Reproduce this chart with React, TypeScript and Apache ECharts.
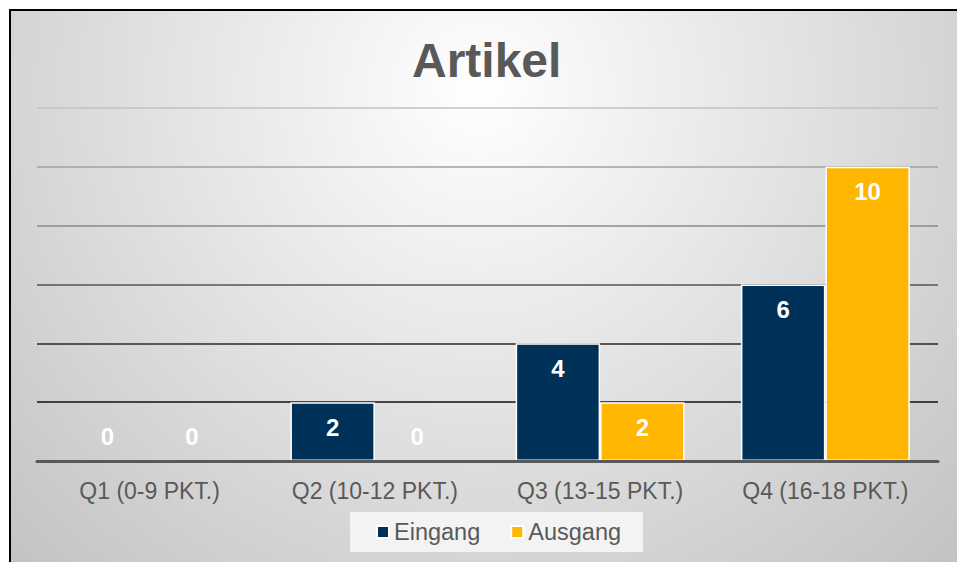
import React, { useEffect, useRef } from "react";
import * as echarts from "echarts";

const categories = ["Q1 (0-9 PKT.)", "Q2 (10-12 PKT.)", "Q3 (13-15 PKT.)", "Q4 (16-18 PKT.)"];
const eingang = [0, 2, 4, 6];
const ausgang = [0, 0, 2, 10];
const seriesNames = ["Eingang", "Ausgang"];
const yTicks = { min: 0, max: 12, interval: 2 };

const toData = (vals: number[]) =>
  vals.map((v) =>
    v === 0 ? { value: v, label: { position: "top", distance: 12 } } : { value: v }
  );

export default function App() {
  const ref = useRef<HTMLDivElement>(null);
  useEffect(() => {
    if (!ref.current) return;
    const chart = echarts.init(ref.current, undefined, { renderer: "svg" });
    const label = {
      show: true,
      position: "insideTop",
      distance: 13,
      color: "#ffffff",
      fontSize: 24,
      fontWeight: "bold",
      fontFamily: "Liberation Sans, Arial, sans-serif",
    };
    chart.setOption({
      animation: false,
      backgroundColor: "#ffffff",
      graphic: [
        {
          type: "rect",
          z: -100,
          silent: true,
          shape: { x: 10, y: 10, width: 947, height: 552 },
          style: {
            fill: {
              type: "radial",
              x: 480,
              y: 90,
              r: 700,
              global: true,
              colorStops: [
                { offset: 0, color: "#ffffff" },
                { offset: 1, color: "#c0c0c0" },
              ],
            },
          },
        },
        {
          type: "line",
          z: -99,
          silent: true,
          shape: { x1: 10, y1: 10, x2: 957, y2: 10 },
          style: { stroke: "#000000", lineWidth: 2 },
        },
        {
          type: "line",
          z: -99,
          silent: true,
          shape: { x1: 10, y1: 9, x2: 10, y2: 562 },
          style: { stroke: "#000000", lineWidth: 2 },
        },
      ],
      title: {
        text: "Artikel",
        left: 407,
        top: 31,
        textStyle: {
          fontSize: 48,
          fontWeight: "bold",
          color: "#595959",
          fontFamily: "Liberation Sans, Arial, sans-serif",
        },
      },
      legend: {
        data: seriesNames,
        left: 350,
        top: 512,
        padding: [8, 22, 8, 26],
        backgroundColor: "#f3f3f3",
        itemWidth: 12,
        itemHeight: 12,
        itemGap: 30,
        icon: "rect",
        textStyle: {
          fontSize: 23.5,
          color: "#595959",
          fontFamily: "Liberation Sans, Arial, sans-serif",
        },
      },
      grid: { left: 37, right: 19, top: 108, bottom: 101, containLabel: false },
      xAxis: {
        type: "category",
        data: categories,
        axisLine: { show: true, lineStyle: { color: "#595959", width: 3 } },
        axisTick: { show: false },
        axisLabel: {
          fontSize: 23,
          color: "#595959",
          margin: 18,
          fontFamily: "Liberation Sans, Arial, sans-serif",
        },
        z: 5,
      },
      yAxis: {
        type: "value",
        min: yTicks.min,
        max: yTicks.max,
        interval: yTicks.interval,
        axisLabel: { show: false },
        axisLine: { show: false },
        axisTick: { show: false },
        splitLine: {
          show: true,
          lineStyle: {
            width: 1.5,
            color: ["#595959", "#111111", "#2a2a2a", "#555555", "#8a8a8a", "#a2a2a2", "#c2c2c2"],
          },
        },
      },
      series: [
        {
          name: seriesNames[0],
          type: "bar",
          data: toData(eingang),
          barCategoryGap: "25%",
          barGap: "0%",
          itemStyle: { color: "#003159", borderColor: "#ffffff", borderWidth: 1.5 },
          label,
        },
        {
          name: seriesNames[1],
          type: "bar",
          data: toData(ausgang),
          barCategoryGap: "25%",
          barGap: "0%",
          itemStyle: { color: "#FFB600", borderColor: "#ffffff", borderWidth: 1.5 },
          label,
        },
      ],
    });
    return () => chart.dispose();
  }, []);
  return (
    <div
      ref={ref}
      style={{ position: "fixed", left: 0, top: 0, width: 957, height: 562 }}
    />
  );
}
